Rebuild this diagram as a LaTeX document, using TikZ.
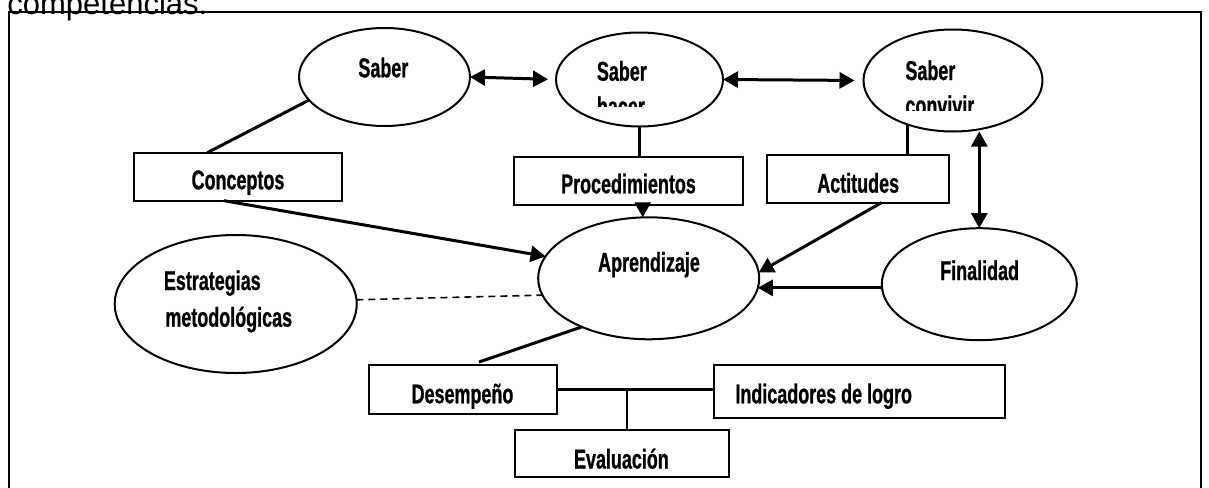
\documentclass[tikz,border=0pt]{standalone}
\usepackage{fontspec}
\setmainfont{Liberation Sans}
\newfontfamily\ag{Liberation Sans}[FakeStretch=0.66, FakeBold=0.8]
\usetikzlibrary{arrows.meta,calc,shapes.geometric}
\begin{document}
\begin{tikzpicture}[x=0.5pt,y=-0.5pt,
  ell/.style={draw, ellipse, line width=1pt, inner sep=0pt, outer sep=0pt},
  box/.style={draw, rectangle, line width=1pt, inner sep=0pt, outer sep=0pt},
  lbl/.style={inner sep=0pt, font=\ag\bfseries\fontsize{13.6}{17.6}\selectfont},
  conn/.style={line width=1.5pt},
  tip/.style={-{Triangle[length=7.5pt,width=8pt]}},
  dtip/.style={{Triangle[length=7.5pt,width=8pt]}-{Triangle[length=7.5pt,width=8pt]}},
  dashline/.style={line width=0.8pt, dash pattern=on 3.5pt off 2.5pt}
]
\useasboundingbox (0,0) rectangle (1209,487);

% page text above the frame (cut off as in the source)
\node[inner sep=0pt, anchor=base west, font=\fontsize{15.5}{18}\selectfont] (comp) at (7,14.5) {competencias.};

% frame
\draw[line width=1pt] (9,490) -- (9,12) -- (1201,12) -- (1201,490);

% ellipses
\node[ell, minimum width=85.5pt, minimum height=49pt] (saber) at (384.5,77) {};
\node[ell, minimum width=83.5pt, minimum height=47pt] (hacer) at (639.5,79.5) {};
\node[ell, minimum width=89.5pt, minimum height=51pt] (conv) at (953,80.5) {};
\node[ell, minimum width=110.5pt, minimum height=61pt] (aprend) at (648.7,278.3) {};
\node[ell, minimum width=97.5pt, minimum height=56pt] (final) at (979.3,284.2) {};
\node[ell, minimum width=121pt, minimum height=69pt] (estrat) at (235.7,304) {};

% boxes
\node[box, minimum width=104pt, minimum height=24pt] (conc) at (238.3,176.7) {};
\node[box, minimum width=114.65pt, minimum height=24pt] (proc) at (628.7,180.5) {};
\node[box, minimum width=91.2pt, minimum height=23.85pt] (actit) at (858.2,178.8) {};
\node[box, minimum width=93.75pt, minimum height=24.5pt] (desemp) at (463,389.5) {};
\node[box, minimum width=145.35pt, minimum height=26.65pt] (indic) at (859.7,391.7) {};
\node[box, minimum width=106.7pt, minimum height=23.65pt] (evalu) at (621.9,453.7) {};

% labels
\node[lbl, anchor=base west] (tsaber) at (358,77.3) {Saber};
\begin{scope}
  \clip (580,40) rectangle (720,106);
  \node[lbl, anchor=base west] (thacer1) at (596.5,80.7) {Saber};
  \node[lbl, anchor=base west] (thacer2) at (596.5,116) {hacer};
\end{scope}
\begin{scope}
  \clip (890,40) rectangle (1020,110);
  \node[lbl, anchor=base west] (tconv1) at (905,80) {Saber};
  \node[lbl, anchor=base west] (tconv2) at (905,115) {convivir};
\end{scope}
\node[lbl, anchor=base] (tconc) at (238,189.3) {Conceptos};
\node[lbl, anchor=base] (tproc) at (628.5,193.3) {Procedimientos};
\node[lbl, anchor=base] (tactit) at (858.2,192.7) {Actitudes};
\node[lbl, anchor=base] (taprend) at (649,271.7) {Aprendizaje};
\node[lbl, anchor=base] (tfinal) at (979.6,280) {Finalidad};
\node[lbl, anchor=base west] (testrat1) at (163.5,290) {Estrategias};
\node[lbl, anchor=base west] (testrat2) at (165,326.7) {metodológicas};
\node[lbl, anchor=base] (tdesemp) at (462.5,403.3) {Desempeño};
\node[lbl, anchor=base west] (tindic) at (735,403.3) {Indicadores de logro};
\node[lbl, anchor=base] (teval) at (621.4,468.5) {Evaluación};

% connectors
\draw[conn, dtip, shorten >=4pt] (saber.east) -- (hacer.west);
\draw[conn, dtip, shorten >=4.5pt] (hacer.east) -- (conv.west);
\draw[conn] (saber.197.6) -- ([xshift=-15.5pt]conc.north);
\draw[conn] (hacer.south) -- (hacer.south |- proc.north);
\draw[conn] (conv.224.3) -- (conv.224.3 |- actit.north);
\draw[conn, dtip] (final.north |- conv.south) -- (final.north);
\draw[conn, tip] ([xshift=-7.15pt]conc.south) -- (aprend.168);
\draw[conn, tip] ([xshift=-3pt]aprend.north |- proc.south) -- ([xshift=-3pt]aprend.north);
\draw[conn, tip] ([xshift=11.65pt]actit.south) -- (aprend.3);
\draw[conn, tip] (final.west |- aprend.-5) -- (aprend.-5);
\draw[dashline] (estrat.2) -- (aprend.189);
\draw[conn] (aprend.216) -- ([xshift=8pt,yshift=1.5pt]desemp.north);
\draw[conn] (desemp.east) -- (desemp.east -| indic.west);
\coordinate (junc) at ($(desemp.east)!0.445!(desemp.east -| indic.west)$);
\draw[line width=1pt] (junc) -- (junc |- evalu.north);
\end{tikzpicture}
\end{document}
